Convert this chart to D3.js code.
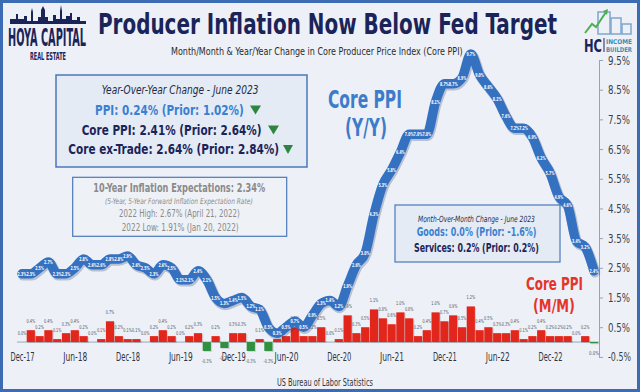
<!DOCTYPE html>
<html><head><meta charset="utf-8">
<script src="https://cdn.jsdelivr.net/npm/d3@7"></script>
<style>html,body{margin:0;padding:0;background:#edf1f7;} svg{display:block}</style>
</head><body><svg id="c" width="640" height="392"></svg>
<script>
const months = ["Dec-17","Jan-18","Feb-18","Mar-18","Apr-18","May-18","Jun-18","Jul-18","Aug-18","Sep-18","Oct-18","Nov-18",
"Dec-18","Jan-19","Feb-19","Mar-19","Apr-19","May-19","Jun-19","Jul-19","Aug-19","Sep-19","Oct-19","Nov-19",
"Dec-19","Jan-20","Feb-20","Mar-20","Apr-20","May-20","Jun-20","Jul-20","Aug-20","Sep-20","Oct-20","Nov-20",
"Dec-20","Jan-21","Feb-21","Mar-21","Apr-21","May-21","Jun-21","Jul-21","Aug-21","Sep-21","Oct-21","Nov-21",
"Dec-21","Jan-22","Feb-22","Mar-22","Apr-22","May-22","Jun-22","Jul-22","Aug-22","Sep-22","Oct-22","Nov-22",
"Dec-22","Jan-23","Feb-23","Mar-23","Apr-23","May-23"];
// Core PPI year/year (%)
const yoy = [2.3,2.3,2.5,2.7,2.3,2.3,2.5,2.8,2.6,2.6,
2.8,2.8,2.9,2.6,2.5,2.3,2.6,2.5,2.1,2.1,
2.4,2.1,1.5,1.3,1.4,1.5,1.2,1.1,0.5,0.3,
0.5,0.7,0.5,0.9,1.3,1.4,1.2,1.9,2.6,3.0,
4.3,5.3,5.8,6.4,7.0,7.0,7.0,8.1,8.7,8.7,
8.9,9.7,9.0,8.6,8.2,7.6,7.2,7.2,6.9,6.2,
5.7,4.9,4.6,3.4,3.2,2.4];
// Core PPI month/month (%)
const mom = [0.0,0.4,0.2,0.4,0.1,0.3,0.4,0.2,0.0,0.1,
0.7,0.2,0.1,0.1,0.0,0.2,0.4,0.2,0.0,0.2,
0.3,-0.3,0.2,-0.2,0.3,0.3,-0.3,0.1,-0.3,0.1,
0.2,0.5,0.2,0.2,0.5,0.0,0.1,0.9,0.3,0.5,
1.1,0.8,0.6,1.0,0.8,0.2,0.4,1.0,0.7,0.9,
0.5,1.2,0.4,0.5,0.3,0.3,0.4,0.1,0.2,0.4,
0.2,0.2,0.2,0.0,0.2,-0.04];
const tickMonths = ["Dec-17","Jun-18","Dec-18","Jun-19","Dec-19","Jun-20","Dec-20","Jun-21","Dec-21","Jun-22","Dec-22"];
const yTicks = [-0.5,0.5,1.5,2.5,3.5,4.5,5.5,6.5,7.5,8.5,9.5];

const FONT = "'Liberation Sans Narrow','Arial Narrow','DejaVu Sans Condensed',sans-serif";
const svg = d3.select("#c");
function txt(parent, s, x, y, o = {}) {
  const t = parent.append("text").attr("x", x).attr("y", y).text(s)
    .attr("font-family", o.family || FONT).attr("font-size", o.size || 10)
    .attr("fill", o.fill || "#333");
  if (o.weight) t.attr("font-weight", o.weight);
  if (o.style) t.attr("font-style", o.style);
  if (o.anchor) t.attr("text-anchor", o.anchor);
  if (o.len) {
    const w = t.node().getComputedTextLength();
    t.attr("x", 0).attr("y", 0).attr("transform", `translate(${x},${y}) scale(${o.len / w},1)`);
  }
  return t;
}
function tri(x0, x1, yTop, yBot) {
  svg.append("path").attr("d", `M${x0},${yTop}L${x1},${yTop}L${(x0+x1)/2},${yBot}Z`).attr("fill", "#2e8540");
}

// background + frame
svg.append("rect").attr("width", 640).attr("height", 392).attr("fill", "#edf1f7");
svg.append("rect").attr("x", 1.5).attr("y", 1.5).attr("width", 637).attr("height", 389)
  .attr("fill", "none").attr("stroke", "#3b6cb3").attr("stroke-width", 3);

const x = d3.scalePoint(months, [22, 594]);
const y = d3.scaleLinear([-0.5, 9.5], [356.9, 60.0]);
const y0 = y(0);

// ---- header ----
txt(svg, "Producer Inflation Now Below Fed Target", 98, 34, {size: 28, weight: "bold", fill: "#1b2458", len: 459});
txt(svg, "Month/Month & Year/Year Change in Core Producer Price Index (Core PPI)", 171, 55, {size: 10.5, fill: "#2b2b2b", len: 292});

// Hoya Capital logo (decorative)
const sky = svg.append("g").attr("fill", "#1b2458");
sky.append("path").attr("d",
  "M10,24 L10,19 L16,19 L16,14 L18,14 L18,19 L24,19 L24,16 L27,16 L27,21 L31,21 L31,12 L32,8 L33,12 L33,21 L38,21 L38,17 L41,17 L41,10 L43,6 L45,10 L45,17 L48,17 L48,21 L53,21 L53,15 L56,15 L56,19 L60,19 L60,11 L61,5 L62,11 L62,19 L66,19 L66,16 L70,16 L70,13 L72,13 L72,20 L77,20 L77,17 L80,17 L80,21 L86,21 L86,24 Z");
txt(svg, "HOYA CAPITAL", 8, 46, {size: 24, weight: "bold", fill: "#1b2458", len: 78});
txt(svg, "REAL ESTATE", 30, 60, {size: 10, weight: "bold", fill: "#1b2458", len: 36});

// HC Income Builder logo (decorative)
const hc = svg.append("g");
hc.append("rect").attr("x", 598).attr("y", 12).attr("width", 12).attr("height", 22).attr("fill", "none").attr("stroke", "#7fa7cf").attr("stroke-width", 1.5);
hc.append("rect").attr("x", 611).attr("y", 18).attr("width", 10).attr("height", 16).attr("fill", "none").attr("stroke", "#7fa7cf").attr("stroke-width", 1.5);
hc.append("rect").attr("x", 622).attr("y", 24).attr("width", 9).attr("height", 10).attr("fill", "none").attr("stroke", "#7fa7cf").attr("stroke-width", 1.5);
hc.append("path").attr("d", "M585,33 L592,24 L596,27 L606,12").attr("fill", "none").attr("stroke", "#4caf50").attr("stroke-width", 2);
hc.append("path").attr("d", "M603,11 L608,9 L607,15 Z").attr("fill", "#4caf50");
txt(svg, "HC", 584, 52, {size: 18, weight: "bold", fill: "#1b2458", len: 18});
hc.append("line").attr("x1", 604).attr("x2", 604).attr("y1", 38).attr("y2", 52).attr("stroke", "#1b2458").attr("stroke-width", 1);
txt(svg, "INCOME", 606, 44, {size: 6.5, weight: "bold", fill: "#3b8fb0", len: 26});
txt(svg, "BUILDER", 606, 52, {size: 6.5, weight: "bold", fill: "#3b8fb0", len: 26});

// ---- legend box 1 ----
svg.append("rect").attr("x", 56).attr("y", 75).attr("width", 251).attr("height", 92)
  .attr("fill", "#e4ebf5").attr("stroke", "#4a78b9").attr("stroke-width", 1.5);
txt(svg, "Year-Over-Year Change - June 2023", 101.7, 94, {size: 11.5, style: "italic", fill: "#1f2a44", len: 157});
txt(svg, "PPI: 0.24% (Prior: 1.02%)", 95, 115, {size: 14.5, weight: "bold", fill: "#3a7fd0", len: 149});
tri(250, 261, 105.5, 114.5);
txt(svg, "Core PPI: 2.41% (Prior: 2.64%)", 81.7, 135, {size: 14.5, weight: "bold", fill: "#1b2458", len: 180});
tri(268, 279, 125.5, 134.5);
txt(svg, "Core ex-Trade: 2.64% (Prior: 2.84%)", 68.3, 154.3, {size: 14.5, weight: "bold", fill: "#1b2458", len: 211});
tri(283, 293, 145, 154);

// ---- legend box 2 ----
svg.append("rect").attr("x", 72.7).attr("y", 177.3).attr("width", 214).attr("height", 59)
  .attr("fill", "#eef1f6").attr("stroke", "#4a78b9").attr("stroke-width", 1.2);
txt(svg, "10-Year Inflation Expectations: 2.34%", 93.3, 191.7, {size: 11.5, weight: "bold", fill: "#8a8a8a", len: 172});
txt(svg, "(5-Year, 5-Year Forward Inflation Expectation Rate)", 105, 204, {size: 8, style: "italic", fill: "#8a8a8a", len: 148});
txt(svg, "2022 High: 2.67% (April 21, 2022)", 119, 217.3, {size: 10, fill: "#8a8a8a", len: 121});
txt(svg, "2022 Low: 1.91% (Jan 20, 2022)", 121.7, 230.5, {size: 10, fill: "#8a8a8a", len: 117});

// ---- legend box 3 ----
svg.append("rect").attr("x", 395).attr("y", 205).attr("width", 165).attr("height", 57)
  .attr("fill", "#e4ebf5").attr("stroke", "#4a78b9").attr("stroke-width", 1.2);
txt(svg, "Month-Over-Month Change - June 2023", 418, 221.7, {size: 8.5, style: "italic", fill: "#1f2a44", len: 117});
txt(svg, "Goods: 0.0% (Prior: -1.6%)", 416.7, 235.5, {size: 12, weight: "bold", fill: "#3a7fd0", len: 120});
txt(svg, "Services: 0.2% (Prior: 0.2%)", 414, 252, {size: 12, weight: "bold", fill: "#1b2458", len: 125});

// ---- series captions ----
txt(svg, "Core PPI", 328, 108, {size: 25, weight: "bold", fill: "#3d7cc9", len: 74});
txt(svg, "(Y/Y)", 345, 136, {size: 25, weight: "bold", fill: "#3d7cc9", len: 42});
txt(svg, "Core PPI", 526, 290, {size: 18, weight: "bold", fill: "#e5352a", len: 57});
txt(svg, "(M/M)", 533, 312, {size: 18, weight: "bold", fill: "#e5352a", len: 42});

// ---- axes ----
svg.append("line").attr("x1", 17).attr("x2", 599).attr("y1", y0).attr("y2", y0)
  .attr("stroke", "#9aa6b8").attr("stroke-width", 1);
const xAxis = d3.axisBottom(x).tickValues(tickMonths).tickSize(0).tickPadding(10);
svg.append("g").attr("transform", `translate(0,${y0})`).call(xAxis)
  .call(g => g.select(".domain").remove())
  .call(g => g.selectAll("text").attr("font-family", FONT).attr("font-size", 12.5).attr("fill", "#2f3440")
    .attr("textLength", 24).attr("lengthAdjust", "spacingAndGlyphs"));

const yAxis = d3.axisRight(y).tickValues(yTicks).tickFormat(d => d.toFixed(1) + "%").tickSize(4).tickSizeOuter(0).tickPadding(5);
svg.append("g").attr("transform", "translate(599,0)").call(yAxis)
  .call(g => g.select(".domain").attr("stroke", "#93a3bb"))
  .call(g => g.selectAll(".tick line").attr("stroke", "#93a3bb"))
  .call(g => g.selectAll("text").attr("font-family", FONT).attr("font-size", 12.5).attr("fill", "#3a3d48")
    .attr("textLength", d => d < 0 ? 23 : 22).attr("lengthAdjust", "spacingAndGlyphs"));

// ---- M/M bars ----
const bw = 8.2;
const bars = svg.append("g");
bars.selectAll("rect.sh").data(mom).join("rect").attr("class", "sh")
  .attr("x", (d, i) => x(months[i]) - bw / 2 + 1.2).attr("width", bw)
  .attr("y", d => Math.min(y(d), y0) + 1).attr("height", d => Math.abs(y(d) - y0))
  .attr("fill", "#000").attr("opacity", 0.12);
bars.selectAll("rect.b").data(mom).join("rect").attr("class", "b")
  .attr("x", (d, i) => x(months[i]) - bw / 2).attr("width", bw)
  .attr("y", d => Math.min(y(d), y0)).attr("height", d => Math.abs(y(d) - y0))
  .attr("fill", d => d < 0 ? "#2f9040" : "#e3261c");
const fmtM = d => (Math.abs(d) < 0.05 ? "0.0" : d.toFixed(1)) + "%";
bars.selectAll("text").data(mom).join("text")
  .attr("x", (d, i) => x(months[i])).attr("y", d => d < 0 ? y(d) + 12 : y(d) - 7)
  .attr("text-anchor", "middle").attr("font-family", FONT).attr("font-size", 5.5)
  .attr("fill", "#4d5566").attr("textLength", d => d < 0 ? 10 : 8.6).attr("lengthAdjust", "spacingAndGlyphs")
  .text(fmtM);

// ---- Y/Y line ----
const line = d3.line().x((d, i) => x(months[i])).y(d => y(d)).curve(d3.curveMonotoneX);
svg.append("path").datum(yoy).attr("d", line).attr("fill", "none")
  .attr("stroke", "#1c3560").attr("stroke-opacity", 0.25).attr("stroke-width", 10.5)
  .attr("stroke-linejoin", "round").attr("stroke-linecap", "round").attr("transform", "translate(1,1.5)");
svg.append("path").datum(yoy).attr("d", line).attr("fill", "none")
  .attr("stroke", "#3571c1").attr("stroke-width", 9.5)
  .attr("stroke-linejoin", "round").attr("stroke-linecap", "round");
svg.append("g").selectAll("text").data(yoy).join("text")
  .attr("x", (d, i) => x(months[i])).attr("y", d => y(d) + 2)
  .attr("text-anchor", "middle").attr("font-family", FONT).attr("font-size", 5.5)
  .attr("font-weight", "bold").attr("fill", "#ffffff")
  .attr("textLength", 8.8).attr("lengthAdjust", "spacingAndGlyphs")
  .text(d => d.toFixed(1) + "%");

// ---- source ----
txt(svg, "US Bureau of Labor Statistics", 277, 386, {size: 10.5, fill: "#2f3440", len: 96});
</script></body></html>
